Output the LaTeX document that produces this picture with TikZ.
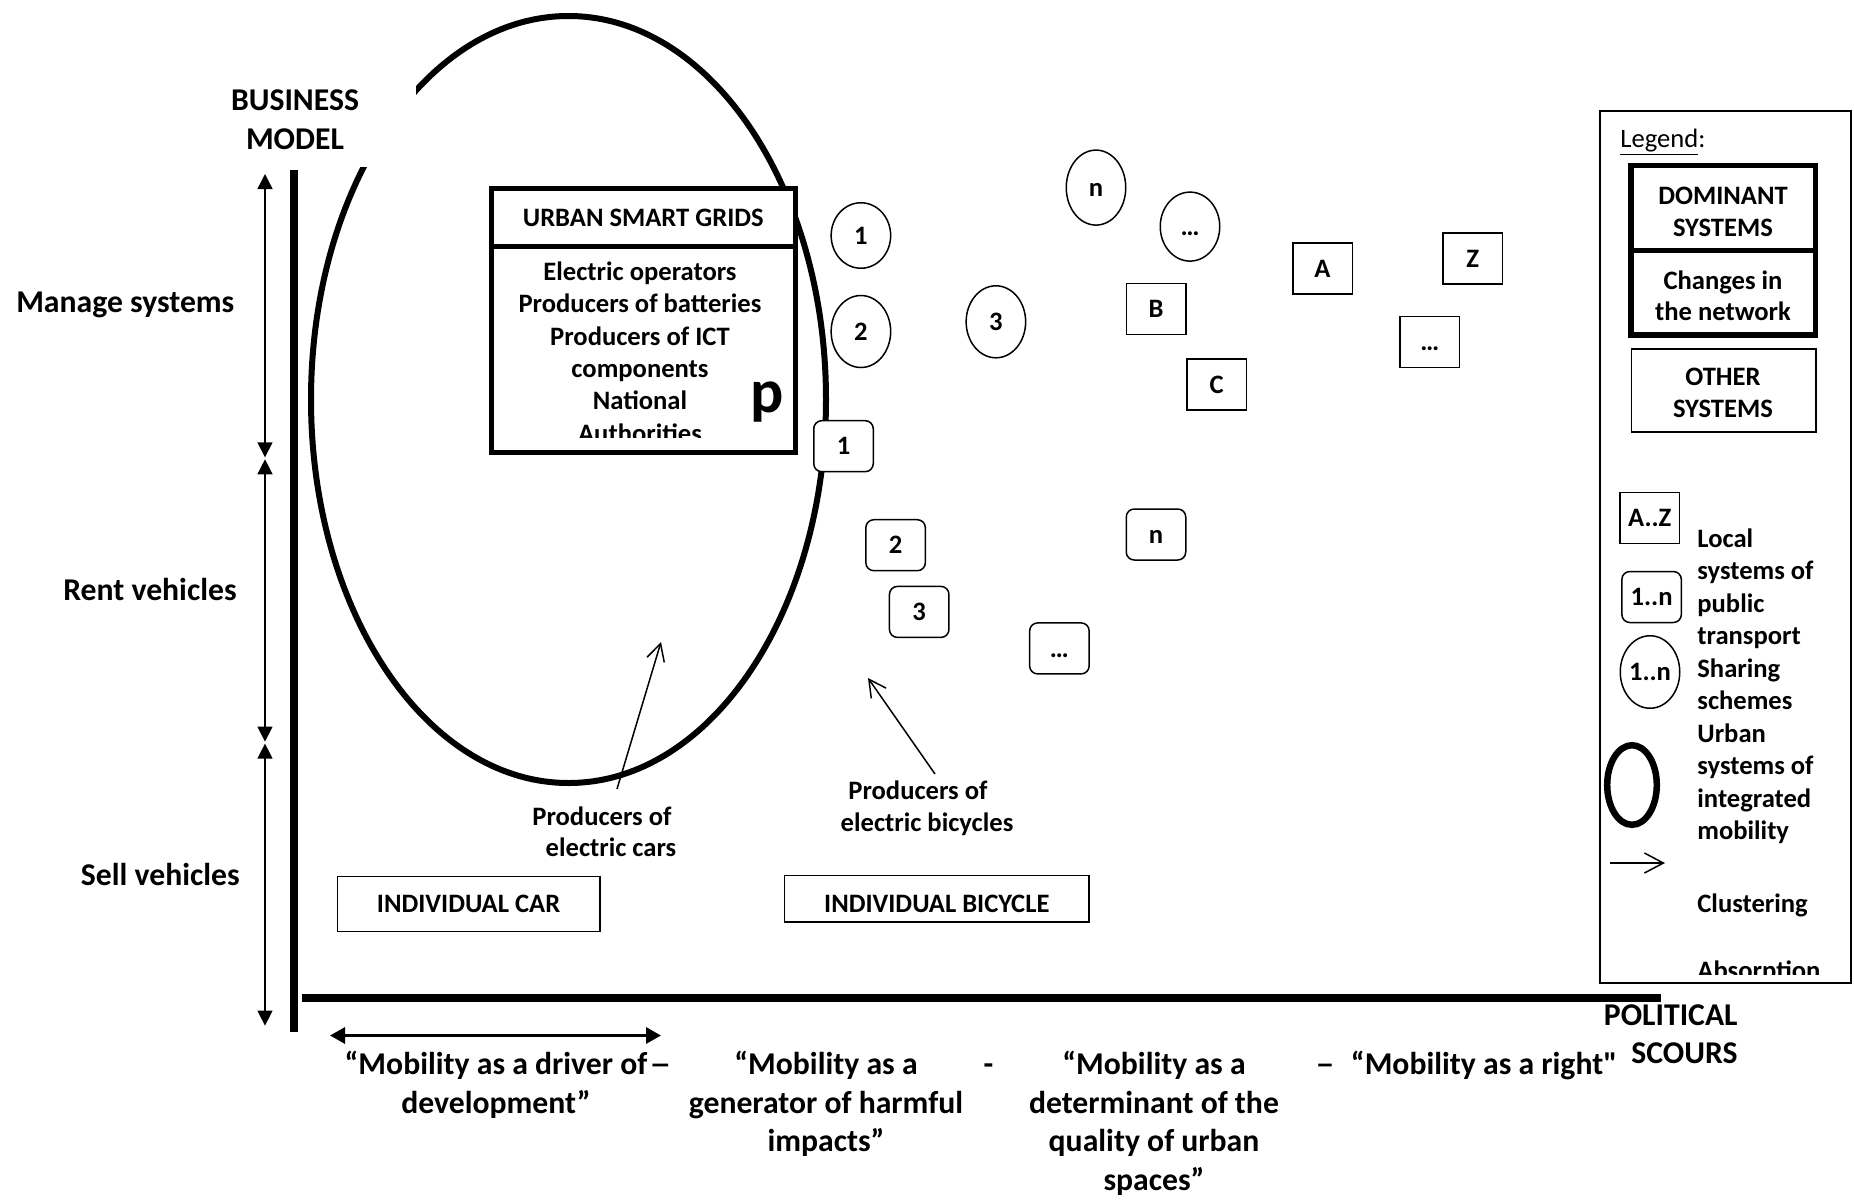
\documentclass[tikz,border=0pt]{standalone}
\usepackage{fontspec}
\usepackage{graphicx}
\setmainfont{Carlito}
\usetikzlibrary{arrows.meta,shapes.geometric}
\newcommand\fsA{\fontsize{13.3pt}{16.2pt}\selectfont\bfseries}
\newcommand\fsB{\fontsize{15.85pt}{19.4pt}\selectfont\bfseries}
\newcommand\fsL{\fontsize{13.3pt}{16.2pt}\selectfont\mdseries}
\font\rawq="Carlito/B" at 15.85pt
\begin{document}
\begin{tikzpicture}[x=0.5pt,y=-0.5pt,
  sbox/.style={draw, line width=0.75pt, fill=white, minimum width=29.75pt, minimum height=25.5pt,
    inner sep=0pt, font=\fsA, text height=8.6pt, text depth=0pt},
  rbox/.style={sbox, rounded corners=4pt},
  sell/.style={ellipse, draw, line width=0.75pt, fill=white, minimum width=29.75pt, inner sep=0pt,
    font=\fsA, text height=8.6pt, text depth=0pt},
  txtA/.style={font=\fsA, inner sep=0pt},
  txtB/.style={font=\fsB, inner sep=0pt},
  txtL/.style={font=\fsA, inner sep=0pt, anchor=base west},
  dblarr/.style={line width=0.7pt, {Triangle[length=7.5pt,width=7.5pt]}-{Triangle[length=7.5pt,width=7.5pt]}},
  openarr/.style={line width=0.75pt, -{Straight Barb[length=8.5pt,width=9pt]}},
  thickbox/.style={draw, line width=2.75pt, minimum width=92.3pt, inner sep=0pt},
]
\useasboundingbox (0,0) rectangle (1854,1200);

% ---- urban integrated mobility ellipse ----
\draw[line width=3pt] (568.5,399.5) ellipse [x radius=128.75pt, y radius=191.75pt];
\fill[white] (190,55) rectangle (416,167);
\node[txtB, anchor=base] (bm1) at (295,110) {BUSINESS};
\node[txtB, anchor=base] (bm2) at (295,149) {MODEL};

% ---- axes ----
\coordinate (vtop) at (294,170);
\coordinate (vbot) at (294,1032);
\draw[line width=3.85pt] (vtop) -- (vbot);
\coordinate (hleft) at (302,998);
\coordinate (hright) at (1661,998);
\draw[line width=3.85pt] (hleft) -- (hright);

% ---- business model ranges ----
\coordinate (m0) at (265,174);   \coordinate (m1) at (265,457.3);
\coordinate (r0) at (265,459.3); \coordinate (r1) at (265,741.6);
\coordinate (q0) at (265,743.6); \coordinate (q1) at (265,1025.6);
\draw[dblarr] (m0) -- (m1);
\draw[dblarr] (r0) -- (r1);
\draw[dblarr] (q0) -- (q1);
\node[txtB, anchor=base] (lman) at (125.3,312) {Manage systems};
\node[txtB, anchor=base] (lrent) at (150,600.2) {Rent vehicles};
\node[txtB, anchor=base] (lsell) at (160.3,885) {Sell vehicles};

% ---- urban smart grids ----
\node[draw, line width=2.5pt, fill=white, minimum width=152.35pt, minimum height=132pt, inner sep=0pt]
  (usg) at (643.35,320.5) {};
\coordinate (divy) at (0,246.5);
\draw[line width=2.5pt] (usg.west |- divy) -- (usg.east |- divy);
\node[txtA, anchor=base] (usgt) at (643.3,226.5) {URBAN SMART GRIDS};
\begin{scope}
  \clip (494,249) rectangle (793,437);
  \foreach \t [count=\k from 0] in {Electric operators, Producers of batteries, Producers of ICT, components, National, Authorities}
    \node[txtA, anchor=base] (usgl\k) at (640,280.5+\k*32.3) {\t};
\end{scope}
\node[inner sep=0pt, anchor=base, font=\fontsize{31pt}{31pt}\selectfont\bfseries] (pp) at (767,412) {p};

% ---- sharing schemes ----
\node[sell, minimum height=32.75pt] (s1) at (860.9,235.5) {1};
\node[sell, minimum height=36pt] (s2) at (860.9,331.5) {2};
\node[sell, minimum height=36pt] (s3) at (995.9,321.8) {3};
\node[sell, minimum height=37.5pt] (sn) at (1096,187.6) {n};
\node[sell, minimum height=34.5pt] (sd) at (1190,226.6) {…};

% ---- local systems of public transport ----
\node[rbox] (p1) at (843.5,446.2) {1};
\node[rbox] (p2) at (895.6,545.2) {2};
\node[rbox] (p3) at (919.2,611.9) {3};
\node[rbox] (pn) at (1156,534.5) {n};
\node[rbox] (pd) at (1059.4,648.4) {…};

% ---- A..Z ----
\node[sbox] (bA) at (1322.5,268.5) {A};
\node[sbox] (bB) at (1156,308.8) {B};
\node[sbox] (bC) at (1216.7,384.5) {C};
\node[sbox] (bZ) at (1472.7,258.5) {Z};
\node[sbox] (bD) at (1429.7,342) {…};

% ---- producers ----
\node[txtL] (pc1) at (532,825) {Producers of};
\node[txtL] (pc2) at (545.3,856) {electric cars};
\node[txtL] (pb1) at (848,799) {Producers of};
\node[txtL] (pb2) at (840.3,831.5) {electric bicycles};
\coordinate (cT) at (617,789);  \coordinate (cH) at (661,642);
\coordinate (bT) at (935,774);  \coordinate (bH) at (868,678);
\draw[openarr] (cT) -- (cH);
\draw[openarr] (bT) -- (bH);

% ---- other systems ----
\node[draw, line width=0.75pt, minimum width=131.15pt, minimum height=27.7pt, inner sep=0pt,
  font=\fsA, text height=8.7pt, text depth=0pt] (car) at (468.6,904) {INDIVIDUAL CAR};
\node[draw, line width=0.75pt, minimum width=152.35pt, minimum height=23.15pt, inner sep=0pt,
  font=\fsA, text height=14pt, text depth=0pt] (bike) at (936.8,898.7) {INDIVIDUAL BICYCLE};

% ---- political discourse ----
\coordinate (ba0) at (330,1035.5);
\coordinate (ba1) at (661,1035.5);
\draw[line width=1.6pt, {Triangle[length=7.5pt,width=8pt]}-{Triangle[length=7.5pt,width=8pt]}] (ba0) -- (ba1);
\foreach \t [count=\k from 0] in {“Mobility as a driver of, development”}
  \node[txtB, anchor=base] (ta\k) at (496,1074.5+\k*38.6) {\t};
\foreach \t [count=\k from 0] in {“Mobility as a, generator of harmful, impacts”}
  \node[txtB, anchor=base] (tb\k) at (826,1074.5+\k*38.6) {\t};
\foreach \t [count=\k from 0] in {“Mobility as a, determinant of the, quality of urban, spaces”}
  \node[txtB, anchor=base] (tc\k) at (1154,1074.5+\k*38.6) {\t};
\node[txtB, anchor=base] (td) at (1484,1074) {“Mobility as a right{\rawq"}};
\node[txtB, anchor=base] (dash1) at (660.5,1074) {\scalebox{1.4}[1]{–}};
\node[txtB, anchor=base] (dash2) at (988.5,1074) {-};
\node[txtB, anchor=base] (dash3) at (1325,1074) {\scalebox{1.2}[1]{–}};
\node[txtB, anchor=base east] (pol1) at (1738,1025) {POLITICAL};
\node[txtB, anchor=base east] (pol2) at (1738,1063) {SCOURS};

% ---- legend ----
\node[draw, line width=1pt, minimum width=125.5pt, minimum height=436pt, inner sep=0pt] (leg) at (1725.5,547) {};
\node[inner sep=0pt, anchor=base west, font=\fsL] (legt) at (1620,147.3) {\underline{Legend}:};
\node[thickbox, minimum height=42.6pt] (ldom) at (1723.3,208.1) {};
\node[thickbox, minimum height=42.05pt] (lchg) at (1723.3,292.75) {};
\node[txtA, anchor=base] (ldom1) at (1723,204) {DOMINANT};
\node[txtA, anchor=base] (ldom2) at (1723,236) {SYSTEMS};
\node[txtA, anchor=base] (lchg1) at (1723,289.6) {Changes in};
\node[txtA, anchor=base] (lchg2) at (1723,320.7) {the network};
\node[draw, line width=0.75pt, minimum width=92.15pt, minimum height=41.5pt, inner sep=0pt] (loth) at (1723.6,390.3) {};
\node[txtA, anchor=base] (loth1) at (1723,385.4) {OTHER};
\node[txtA, anchor=base] (loth2) at (1723,417) {SYSTEMS};
\node[sbox] (lAZ) at (1649.8,518.2) {A..Z};
\node[rbox] (l1n) at (1651.6,597) {1..n};
\node[sell, minimum height=36.25pt] (le1n) at (1650,672) {1..n};
\draw[line width=3.25pt] (1632,785) ellipse [x radius=12.4pt, y radius=19.9pt];
\coordinate (la0) at (1610,863);
\coordinate (la1) at (1665,863);
\draw[line width=0.75pt, -{Straight Barb[length=9.5pt,width=10pt]}] (la0) -- (la1);
\begin{scope}
  \clip (1602,113) rectangle (1849,974);
  \foreach \t [count=\k from 0] in {Local, systems of, public, transport, Sharing, schemes, Urban, systems of, integrated, mobility}
    \node[txtL] (lg\k) at (1697,547+\k*32.5) {\t};
  \node[txtL] (lclu) at (1697,912) {Clustering};
  \node[txtL] (labs) at (1697,979) {Absorption};
\end{scope}
\end{tikzpicture}
\end{document}
